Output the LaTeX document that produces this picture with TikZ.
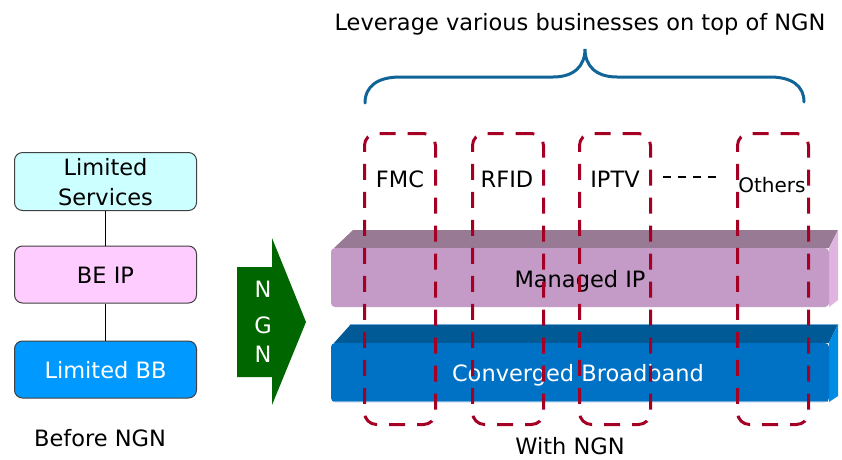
\documentclass[tikz,border=0pt]{standalone}
\usepackage{fontspec}
\setmainfont{DejaVu Sans}
\definecolor{lsfill}{RGB}{204,255,255}
\definecolor{befill}{RGB}{255,204,255}
\definecolor{bbfill}{RGB}{0,153,255}
\definecolor{ngngreen}{RGB}{0,102,0}
\definecolor{mipfront}{RGB}{195,155,198}
\definecolor{miptop}{RGB}{153,122,148}
\definecolor{mipside}{RGB}{224,180,224}
\definecolor{cbfront}{RGB}{0,114,198}
\definecolor{cbtop}{RGB}{0,90,150}
\definecolor{cbside}{RGB}{0,140,228}
\definecolor{cbedge}{RGB}{110,170,215}
\definecolor{dred}{RGB}{165,0,35}
\definecolor{bracec}{RGB}{16,100,150}
\begin{document}
\begin{tikzpicture}[x=1pt,y=-1pt,
  txt/.style={font=\fontsize{22.5}{30}\selectfont, inner sep=0pt, anchor=base},
  lbox/.style={draw=black!75, line width=1pt, rounded corners=8pt, minimum width=182pt, inner sep=0pt},
  dbox/.style={draw=dred, line width=3pt, dash pattern=on 16pt off 12pt, rounded corners=12pt, minimum width=71pt, minimum height=291pt, inner sep=0pt},
  link/.style={draw=black, line width=1.2pt}]
\useasboundingbox (0,0) rectangle (842,459);

% ---- Before NGN ----
\node[lbox, fill=lsfill, minimum height=58pt] (ls) at (105.5,181.5) {};
\node[lbox, fill=befill, minimum height=57pt] (be) at (105.5,274.5) {};
\node[lbox, fill=bbfill, minimum height=57pt] (bb) at (105.5,369.5) {};
\draw[link] (ls) -- (be);
\draw[link] (be) -- (bb);
\node[txt] (lst1) at (105.5,175) {Limited};
\node[txt] (lst2) at (105.5,205) {Services};
\node[txt] (bet) at (105.5,283) {BE IP};
\node[txt, text=white] (bbt) at (105.5,378) {Limited BB};
\node[txt] (before) at (100,446) {Before NGN};

% ---- NGN arrow ----
\fill[ngngreen] (237,267) -- (272,267) -- (272,238) -- (306,322) -- (272,405) -- (272,377) -- (237,377) -- cycle;
\node[txt, text=white] (n1) at (263,297) {N};
\node[txt, text=white] (g1) at (263,333) {G};
\node[txt, text=white] (n2) at (263,362) {N};

% ---- Managed IP slab ----
\fill[miptop] (353,230) -- (838,230) -- (829,248) -- (334,248) -- cycle;
\fill[mipside] (829,248) -- (838,230) -- (838,300) -- (829,307) -- cycle;
\fill[mipfront, rounded corners=4pt] (331,248) rectangle (829,307);
\node[txt] (mip) at (580,287) {Managed IP};

% ---- Converged Broadband slab ----
\fill[cbtop] (351,324) -- (838,324) -- (829,343) -- (334,343) -- cycle;
\draw[cbedge, line width=1pt] (351,324.5) -- (838,324.5);
\fill[cbside] (829,343) -- (838,324) -- (838,396) -- (829,402) -- cycle;
\fill[cbfront, rounded corners=4pt] (331,343) rectangle (829,402);
\draw[cbedge, line width=1.5pt] (333,401.5) -- (828,401.5);
\node[txt, text=white] (cb) at (578,381) {Converged Broadband};

% ---- Dashed service boxes ----
\node[dbox] (fmcbox) at (400,279) {};
\node[dbox] (rfidbox) at (508,279) {};
\node[dbox] (iptvbox) at (615,279) {};
\node[dbox] (othbox) at (773,279) {};
\node[txt] (fmc) at (400,187) {FMC};
\node[txt] (rfid) at (507,187) {RFID};
\node[txt] (iptv) at (615,187) {IPTV};
\node[txt, font=\fontsize{20}{24}\selectfont] (oth) at (772,192) {Others};
\coordinate (dsA) at (663,177);
\coordinate (dsB) at (719,177);
\draw[black, line width=2pt, dash pattern=on 8pt off 7pt] (dsA) -- (dsB);

% ---- Brace and title ----
\coordinate (brL) at (365,103);
\coordinate (brP) at (585,49);
\coordinate (brR) at (804,102);
\draw[bracec, line width=3pt, line cap=round]
  (brL) .. controls (365,86) and (378,77) .. (400,77) -- (553,77)
  .. controls (574,77) and (585,66) .. (brP)
  .. controls (585,66) and (596,77) .. (617,77) -- (770,77)
  .. controls (792,77) and (804,86) .. (brR);
\node[txt] (title) at (580,30) {Leverage various businesses on top of NGN};
\node[txt] (with) at (570,454) {With NGN};
\end{tikzpicture}
\end{document}
